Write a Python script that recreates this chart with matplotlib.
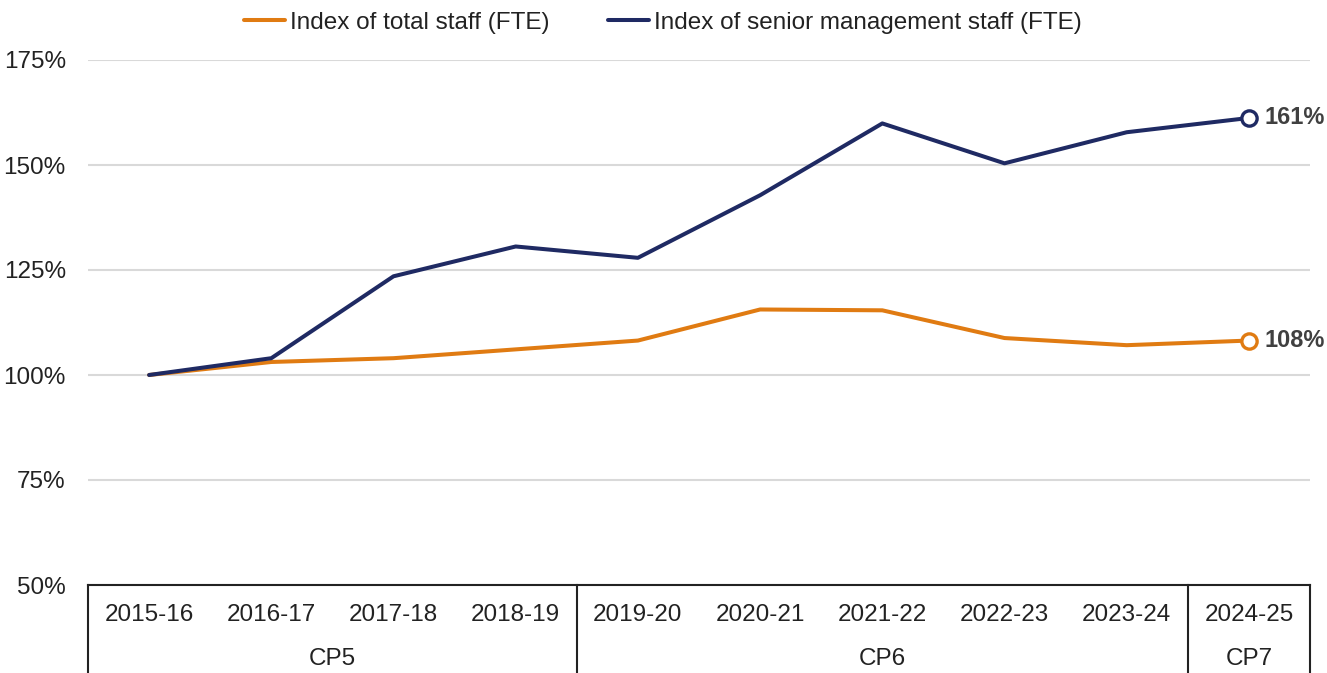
import matplotlib.pyplot as plt
from matplotlib import transforms

plt.rcParams['font.family'] = ['Liberation Sans', 'DejaVu Sans']

# data
years = ['2015-16', '2016-17', '2017-18', '2018-19', '2019-20',
         '2020-21', '2021-22', '2022-23', '2023-24', '2024-25']
total_staff = [100, 103.1, 104.0, 106.1, 108.2, 115.6, 115.4, 108.8, 107.1, 108.2]
senior_staff = [100, 104.0, 123.5, 130.6, 127.9, 142.8, 159.9, 150.4, 157.8, 161.2]
periods = ['CP5', 'CP6', 'CP7']
period_sizes = [4, 5, 1]

orange = '#E07B12'
navy = '#1F2A63'
txt = '#222222'
fs = 17.5

W, H = 1327, 673
fig = plt.figure(figsize=(W / 100, H / 100), dpi=100)
ax = fig.add_axes([88 / W, 1 - 585 / H, (1310 - 88) / W, (585 - 60) / H])

x = list(range(len(years)))
ax.plot(x, total_staff, color=orange, lw=2.9, solid_capstyle='round',
        label='Index of total staff (FTE)', zorder=3)
ax.plot(x, senior_staff, color=navy, lw=2.9, solid_capstyle='round',
        label='Index of senior management staff (FTE)', zorder=4)

# end markers + labels
for vals, c in [(total_staff, orange), (senior_staff, navy)]:
    ax.plot(x[-1], vals[-1], 'o', ms=11, mfc='white', mec=c, mew=2.4,
            zorder=5, clip_on=False)
    ax.annotate(f'{vals[-1]:.0f}%', (x[-1], vals[-1]), xytext=(11, 0),
                textcoords='offset points', va='center', ha='left',
                fontsize=17, fontweight='bold', color='#404040')

ax.set_xlim(-0.5, len(years) - 0.5)
ax.set_ylim(50, 175)
ax.set_yticks([50, 75, 100, 125, 150, 175])
ax.set_yticklabels([f'{v}%' for v in [50, 75, 100, 125, 150, 175]])
ax.yaxis.grid(True, color='#D9D9D9', lw=1.5)
ax.set_axisbelow(True)
ax.tick_params(axis='y', length=0, pad=16, labelsize=fs, labelcolor=txt)

for s in ['left', 'right', 'top']:
    ax.spines[s].set_visible(False)
ax.spines['bottom'].set_color('#222222')
ax.spines['bottom'].set_linewidth(1.5)

# category table under the axis
ax.set_xticks(x)
ax.set_xticklabels(years)
ax.tick_params(axis='x', length=0, pad=14, labelsize=fs, labelcolor=txt)

trans = transforms.blended_transform_factory(ax.transData, ax.transAxes)
edge = -0.5
ax.plot([edge, edge], [0, -0.3], color='#222222', lw=1.5, transform=trans, clip_on=False)
for name, n in zip(periods, period_sizes):
    ax.text(edge + n / 2, -0.141, name, transform=trans, ha='center', va='center',
            fontsize=fs, color=txt)
    edge += n
    ax.plot([edge, edge], [0, -0.3], color='#222222', lw=1.5, transform=trans, clip_on=False)

fig.legend(loc='upper center', bbox_to_anchor=(663 / W, 1.015), ncol=2, frameon=False,
           fontsize=fs, handlelength=1.7, handletextpad=0.2, columnspacing=2.4,
           labelcolor=txt)

plt.savefig('out.png', dpi=100)
